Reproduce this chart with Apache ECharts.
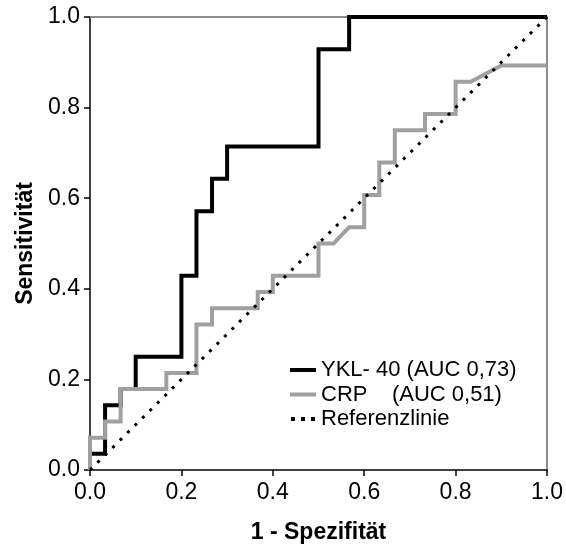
<!DOCTYPE html>
<html>
<head>
<meta charset="utf-8">
<script src="https://cdn.jsdelivr.net/npm/echarts@6/dist/echarts.min.js"></script>
<style>
  html, body { margin: 0; padding: 0; background: #fff; }
  #chart { width: 566px; height: 549px; }
</style>
</head>
<body>
<div id="chart"></div>
<script>
// ROC curves: 1 - specificity (x) against sensitivity (y)
const seriesNames = ['YKL- 40 (AUC 0,73)', 'CRP    (AUC 0,51)', 'Referenzlinie'];

const yklFpr = [0, 0, 0.033, 0.033, 0.067, 0.067, 0.1, 0.1, 0.2, 0.2, 0.233, 0.233, 0.267, 0.267, 0.3, 0.3, 0.5, 0.5, 0.567, 0.567, 1];
const yklTpr = [0, 0.036, 0.036, 0.143, 0.143, 0.179, 0.179, 0.25, 0.25, 0.429, 0.429, 0.571, 0.571, 0.643, 0.643, 0.714, 0.714, 0.929, 0.929, 1, 1];

const crpFpr = [0, 0, 0.033, 0.033, 0.067, 0.067, 0.167, 0.167, 0.233, 0.233, 0.267, 0.267, 0.367, 0.367, 0.4, 0.4, 0.5, 0.5, 0.533, 0.567, 0.6, 0.6, 0.633, 0.633, 0.667, 0.667, 0.733, 0.733, 0.8, 0.8, 0.833, 0.9, 1];
const crpTpr = [0, 0.071, 0.071, 0.107, 0.107, 0.179, 0.179, 0.214, 0.214, 0.321, 0.321, 0.357, 0.357, 0.393, 0.393, 0.429, 0.429, 0.5, 0.5, 0.536, 0.536, 0.607, 0.607, 0.679, 0.679, 0.75, 0.75, 0.786, 0.786, 0.857, 0.857, 0.893, 0.893];

const refFpr = [0, 1];
const refTpr = [0, 1];

const tickValues = [0, 0.2, 0.4, 0.6, 0.8, 1];

const pairs = (xs, ys) => xs.map((x, i) => [x, ys[i]]);

const FONT = '"Liberation Sans", Arial, sans-serif';
const YKL_COLOR = '#000';
const CRP_COLOR = '#a0a0a0';
const chart = echarts.init(document.getElementById('chart'), null, { renderer: 'canvas' });

const labelStyle = (margin) => ({
  color: '#000', fontFamily: FONT, fontSize: 23, margin: margin,
  formatter: v => tickValues.some(t => Math.abs(t - v) < 1e-9) ? v.toFixed(1) : ''
});

const mainAxis = (name, nameGap, margin) => ({
  type: 'value',
  min: 0,
  max: 1,
  interval: 0.2,
  name: name,
  nameGap: nameGap,
  nameLocation: 'middle',
  nameTextStyle: { color: '#000', fontFamily: FONT, fontSize: 23, fontWeight: 'bold' },
  splitLine: { show: false },
  axisLine: { show: true, onZero: false, lineStyle: { color: '#000', width: 1.5 } },
  axisTick: { show: true, inside: false, length: 6, lineStyle: { color: '#000', width: 1.5 } },
  axisLabel: labelStyle(margin)
});

// plain grey lines closing the plot box on top and right
const frameAxis = (position) => ({
  type: 'value',
  min: 0,
  max: 1,
  position: position,
  splitLine: { show: false },
  axisTick: { show: false },
  axisLabel: { show: false },
  axisLine: { show: true, onZero: false, lineStyle: { color: '#8c8c8c', width: 2 } }
});

// three small squares for the dotted reference line key
const dotsIcon = 'path://M0,0h4v4h-4z M10,0h4v4h-4z M20,0h4v4h-4z';

chart.setOption({
  animation: false,
  backgroundColor: '#fff',
  grid: { left: 90, top: 17, width: 458, height: 458, containLabel: false },
  xAxis: [mainAxis('1 - Spezifität', 51, 11), frameAxis('top')],
  yAxis: [mainAxis('Sensitivität', 53, 10), frameAxis('right')],
  legend: {
    orient: 'vertical',
    left: 290,
    top: 359,
    padding: 0,
    itemWidth: 26,
    itemHeight: 4,
    itemGap: 2.5,
    itemStyle: { borderWidth: 0 },
    textStyle: { color: '#000', fontFamily: FONT, fontSize: 22, lineHeight: 22 },
    data: [
      { name: seriesNames[0], icon: 'rect', itemStyle: { color: YKL_COLOR, borderWidth: 0 } },
      { name: seriesNames[1], icon: 'rect', itemStyle: { color: CRP_COLOR, borderWidth: 0 } },
      { name: seriesNames[2], icon: dotsIcon, itemStyle: { color: '#000', borderWidth: 0 } }
    ]
  },
  series: [
    {
      name: seriesNames[0], type: 'line', xAxisIndex: 0, yAxisIndex: 0,
      symbol: 'none', showSymbol: false,
      lineStyle: { color: YKL_COLOR, width: 4, cap: 'butt', join: 'miter' },
      itemStyle: { color: YKL_COLOR },
      data: pairs(yklFpr, yklTpr)
    },
    {
      name: seriesNames[1], type: 'line', xAxisIndex: 0, yAxisIndex: 0,
      symbol: 'none', showSymbol: false,
      lineStyle: { color: CRP_COLOR, width: 4, cap: 'butt', join: 'miter' },
      itemStyle: { color: CRP_COLOR },
      data: pairs(crpFpr, crpTpr)
    },
    {
      name: seriesNames[2], type: 'line', xAxisIndex: 0, yAxisIndex: 0,
      symbol: 'none', showSymbol: false,
      lineStyle: { color: '#000', width: 3, type: [3, 7.5], cap: 'butt' },
      itemStyle: { color: '#000' },
      data: pairs(refFpr, refTpr)
    }
  ]
});
</script>
</body>
</html>
